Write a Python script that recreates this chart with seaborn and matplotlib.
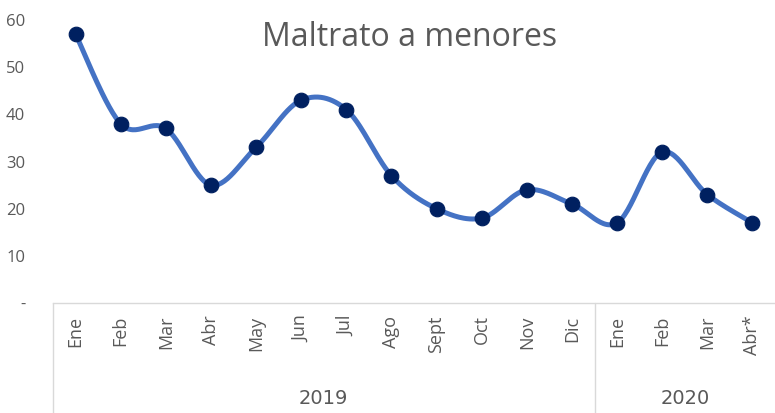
import numpy as np
import pandas as pd
import seaborn as sns
import matplotlib.pyplot as plt

# datos
months = ['Ene', 'Feb', 'Mar', 'Abr', 'May', 'Jun', 'Jul', 'Ago', 'Sept', 'Oct', 'Nov', 'Dic',
          'Ene', 'Feb', 'Mar', 'Abr*']
years = ['2019'] * 12 + ['2020'] * 4
casos = [57, 38, 37, 25, 33, 43, 41, 27, 20, 18, 24, 21, 17, 32, 23, 17]
yticks = [0, 10, 20, 30, 40, 50, 60]
ytick_labels = ['-', '10', '20', '30', '40', '50', '60']

df = pd.DataFrame({'pos': np.arange(len(casos)), 'mes': months, 'anio': years, 'casos': casos})

# suavizado tipo Excel (Catmull-Rom / Bezier)
def smooth(x, y, n=30):
    x = np.asarray(x, float)
    y = np.asarray(y, float)
    xs, ys = [], []
    for i in range(len(x) - 1):
        x0, y0 = (x[i - 1], y[i - 1]) if i > 0 else (x[i], y[i])
        x3, y3 = (x[i + 2], y[i + 2]) if i + 2 < len(x) else (x[i + 1], y[i + 1])
        c1x = x[i] + (x[i + 1] - x0) / 6
        c1y = y[i] + (y[i + 1] - y0) / 6
        c2x = x[i + 1] - (x3 - x[i]) / 6
        c2y = y[i + 1] - (y3 - y[i]) / 6
        t = np.linspace(0, 1, n, endpoint=(i == len(x) - 2))
        b0, b1, b2, b3 = (1 - t) ** 3, 3 * t * (1 - t) ** 2, 3 * t ** 2 * (1 - t), t ** 3
        xs.append(b0 * x[i] + b1 * c1x + b2 * c2x + b3 * x[i + 1])
        ys.append(b0 * y[i] + b1 * c1y + b2 * c2y + b3 * y[i + 1])
    return np.concatenate(xs), np.concatenate(ys)

sx, sy = smooth(df['pos'], df['casos'])
curve = pd.DataFrame({'x': sx, 'y': sy})

sns.set_style('white')
plt.rcParams['font.family'] = ['Open Sans', 'DejaVu Sans']
gray = '#595959'
linec = '#D9D9D9'

fig = plt.figure(figsize=(7.75, 4.13), dpi=100)
ax = fig.add_axes([53 / 775, 1 - 303 / 413, 1 - 53 / 775, (303 - 20) / 413])

sns.lineplot(data=curve, x='x', y='y', ax=ax, color='#4472C4', linewidth=3.6, sort=False)
sns.scatterplot(data=df, x='pos', y='casos', ax=ax, color='#002060', s=110, edgecolor='#002060',
                zorder=3, clip_on=False)

ax.set_xlim(-0.5, len(casos) - 0.5)
ax.set_ylim(0, 60)
ax.set_yticks(yticks)
ax.set_yticklabels(ytick_labels, color=gray, fontsize=12)
ax.tick_params(axis='y', length=0, pad=20)
ax.set_xticks(df['pos'])
ax.set_xticklabels(df['mes'], rotation=90, color=gray, fontsize=13, va='top')
ax.tick_params(axis='x', length=0, pad=9)
ax.set_xlabel('')
ax.set_ylabel('')
for s in ['top', 'right', 'left']:
    ax.spines[s].set_visible(False)
ax.spines['bottom'].set_color(linec)
ax.spines['bottom'].set_linewidth(1)

# separadores de anios
n2019 = years.count('2019')
for xv in [-0.5, n2019 - 0.5]:
    ax.plot([xv, xv], [0, -23.5], color=linec, lw=1, clip_on=False)
for yr in ['2019', '2020']:
    idx = df.index[df['anio'] == yr]
    ax.text((idx.min() + idx.max()) / 2, -20.2, yr, ha='center', va='center', color=gray,
            fontsize=14, family=['Liberation Sans Narrow', 'DejaVu Sans'])

fig.text(410 / 775, 1 - 38 / 413, 'Maltrato a menores', ha='center', va='center', color=gray, fontsize=23)

plt.savefig('out.png', dpi=100)
